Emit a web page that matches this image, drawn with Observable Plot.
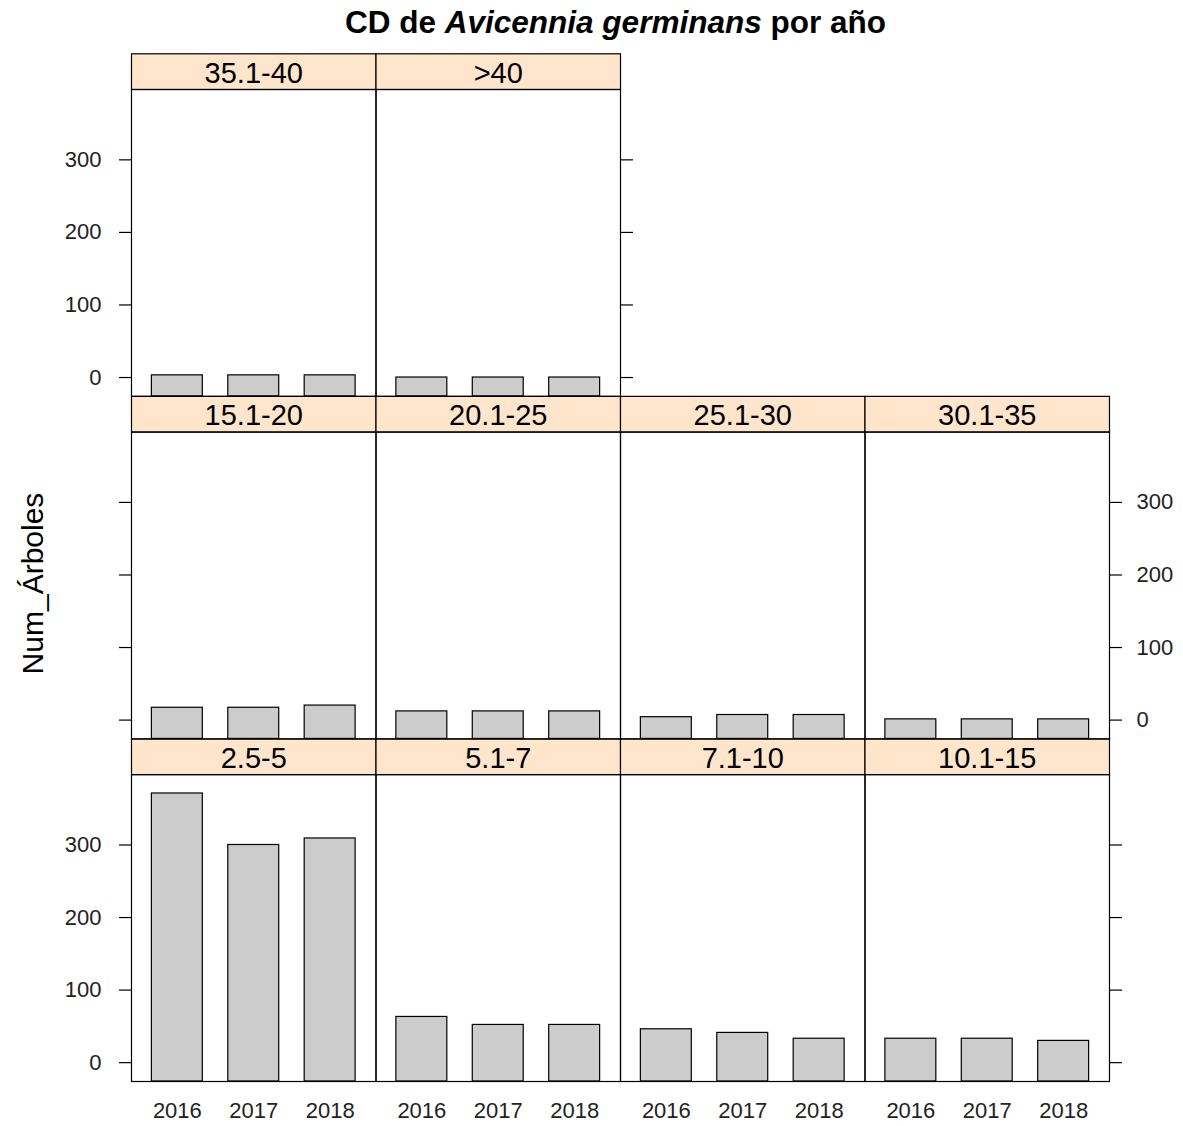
<!DOCTYPE html>
<html>
<head>
<meta charset="utf-8">
<script src="https://cdn.jsdelivr.net/npm/d3@7"></script>
<script src="https://cdn.jsdelivr.net/npm/@observablehq/plot@0.6"></script>
<style>
  body { margin: 0; background: #fff; font-family: "Liberation Sans", Arial, sans-serif; }
  #title {
    height: 44px; line-height: 44px; text-align: center; padding-left: 48px;
    font-size: 31.5px; font-weight: bold; color: #000; white-space: nowrap;
  }
</style>
</head>
<body>
<div id="title">CD de <i>Avicennia germinans</i> por año</div>
<div id="chart"></div>
<script>
// Diameter classes (cm), in panel order: bottom-left first, left to right, then upwards
const classes = ["2.5-5", "5.1-7", "7.1-10", "10.1-15", "15.1-20", "20.1-25", "25.1-30", "30.1-35", "35.1-40", ">40"];
const years = ["2016", "2017", "2018"];
// Number of trees per class and year
const n2016 = [371, 63, 46, 33, 17, 12, 4, 1, 3, 0];
const n2017 = [300, 52, 41, 33, 17, 12, 7, 1, 3, 0];
const n2018 = [309, 52, 33, 30, 20, 12, 7, 1, 3, 0];
const yTicks = [0, 100, 200, 300];
const yLabel = "Num_Árboles";

const ncol = 4, nrow = 3;
const series = [n2016, n2017, n2018];
const panels = classes.map((cls, i) => ({cls, col: i % ncol, row: nrow - 1 - Math.floor(i / ncol)}));
const rows = panels.flatMap((p, i) => years.map((year, j) => ({...p, year, n: series[j][i]})));

// y limits: data range widened by 7% on each side; bars rise from the lower limit
const [lo, hi] = d3.extent(rows, d => d.n);
const pad = 0.07 * (hi - lo);
const yDomain = [lo - pad, hi + pad];

// Geometry of the panel grid
const width = 1183, height = 1082;
const marginTop = 45, marginBottom = 45, marginLeft = 131, marginRight = 74;
const stripH = 35.7;
const rowStep = (height - marginTop - marginBottom + stripH) / nrow;
const panelH = rowStep - stripH;

// Tick labels alternate sides from row to row (bottom row on the left)
const sideOf = row => (nrow - 1 - row) % 2 === 0 ? "left" : "right";
const lastCol = row => d3.max(panels.filter(p => p.row === row), p => p.col);
const tickLabels = d3.range(nrow).flatMap(row => yTicks.map(v => ({
  v, row, side: sideOf(row), col: sideOf(row) === "left" ? 0 : lastCol(row)
})));

const chart = Plot.plot({
  width, height, marginTop, marginBottom, marginLeft, marginRight,
  style: {fontFamily: "'Liberation Sans', Arial, sans-serif", fontSize: "22px", background: "white", overflow: "visible", color: "#000"},
  fx: {domain: d3.range(ncol), padding: 0, round: false, axis: null},
  fy: {domain: d3.range(nrow), paddingInner: stripH / rowStep, paddingOuter: 0, round: false, axis: null},
  x: {domain: years, paddingInner: 1 / 3, paddingOuter: 0.6 - 1 / 3, round: false},
  y: {domain: yDomain},
  marks: [
    // strips above each panel
    Plot.frame({fill: "#ffe5cc", stroke: "#000", strokeWidth: 1.2, insetTop: -stripH, insetBottom: panelH}),
    Plot.text(panels, {fx: "col", fy: "row", text: "cls", frameAnchor: "top", lineAnchor: "middle", dy: -stripH / 2 + 2, fontSize: 29, fill: "#000"}),
    // bars
    Plot.barY(rows, {fx: "col", fy: "row", x: "year", y1: yDomain[0], y2: "n", fill: "#cccccc", stroke: "#000", strokeWidth: 1.2}),
    Plot.frame({stroke: "#000", strokeWidth: 1.2}),
    // axes
    Plot.axisY({anchor: "left", ticks: yTicks, tickSize: 12, tickFormat: () => "", label: null, strokeWidth: 1.2}),
    Plot.axisY({anchor: "right", ticks: yTicks, tickSize: 12, tickFormat: () => "", label: null, strokeWidth: 1.2}),
    Plot.text(tickLabels.filter(d => d.side === "left"), {fx: "col", fy: "row", y: "v", text: d => String(d.v), frameAnchor: "left", textAnchor: "end", dx: -30, fontSize: 22, fill: "#222"}),
    Plot.text(tickLabels.filter(d => d.side === "right"), {fx: "col", fy: "row", y: "v", text: d => String(d.v), frameAnchor: "right", textAnchor: "start", dx: 27, fontSize: 22, fill: "#222"}),
    Plot.axisX({anchor: "bottom", tickSize: 0, tickPadding: 21, label: null, fontSize: 22, fill: "#222"}),
    // y axis title, centred on the middle row
    Plot.text([{label: yLabel, col: 0, row: 1}], {fx: "col", fy: "row", text: "label", frameAnchor: "left", textAnchor: "middle", lineAnchor: "middle", rotate: -90, dx: -98, dy: -2, fontSize: 30, fill: "#000"})
  ]
});
document.getElementById("chart").append(chart);
</script>
</body>
</html>
